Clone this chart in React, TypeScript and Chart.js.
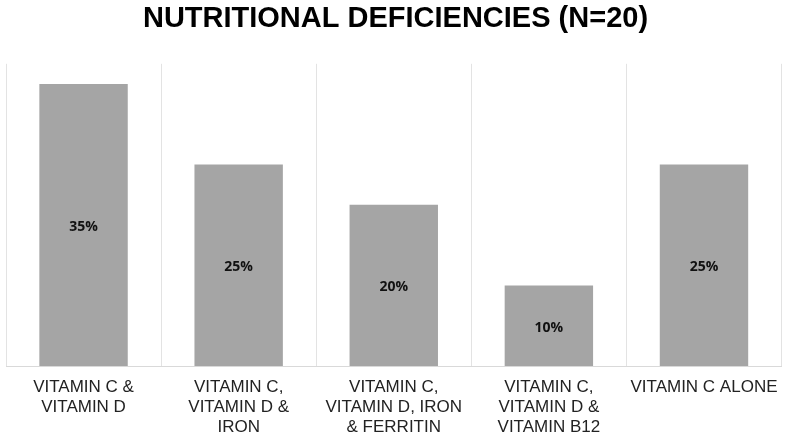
import React, { useEffect, useRef } from "react";
import { Chart, registerables } from "chart.js";

Chart.register(...registerables);

const categories: string[][] = [
  ["VITAMIN C &", "VITAMIN D"],
  ["VITAMIN C,", "VITAMIN D &", "IRON"],
  ["VITAMIN C,", "VITAMIN D, IRON", "& FERRITIN"],
  ["VITAMIN C,", "VITAMIN D &", "VITAMIN B12"],
  ["VITAMIN C ALONE"],
];
const percentages: number[] = [35, 25, 20, 10, 25];
const chartTitle = "NUTRITIONAL DEFICIENCIES (N=20)";

const barLabels = {
  id: "barLabels",
  afterDatasetsDraw(chart: any) {
    const ctx = chart.ctx;
    const meta = chart.getDatasetMeta(0);
    ctx.save();
    ctx.font = "bold 14px 'Open Sans', sans-serif";
    ctx.fillStyle = "#111";
    ctx.textAlign = "center";
    ctx.textBaseline = "middle";
    meta.data.forEach((el: any, i: number) => {
      const { x, y, base } = el.getProps(["x", "y", "base"], true);
      ctx.fillText(percentages[i] + "%", x, (y + base) / 2 + 2);
    });
    ctx.restore();
  },
};

export default function App() {
  const ref = useRef<HTMLCanvasElement>(null);
  useEffect(() => {
    if (!ref.current) return;
    const chart = new Chart(ref.current, {
      type: "bar",
      data: {
        labels: categories,
        datasets: [
          {
            data: percentages,
            backgroundColor: "#a5a5a5",
            barPercentage: 0.57,
            categoryPercentage: 1,
          },
        ],
      },
      options: {
        animation: false,
        responsive: false,
        maintainAspectRatio: false,
        layout: { padding: { left: 6, right: 5, top: 0, bottom: 0 } },
        plugins: {
          legend: { display: false },
          tooltip: { enabled: false },
          title: {
            display: true,
            text: chartTitle,
            color: "#000",
            font: { family: "'Liberation Sans', Arial, sans-serif", size: 29, weight: "bold", lineHeight: 1.2 },
            padding: { top: 2, bottom: 27 },
          },
        },
        scales: {
          x: {
            grid: { display: true, offset: true, color: "#e3e3e3", drawTicks: false },
            border: { color: "#d9d9d9" },
            ticks: {
              color: "#222",
              font: { family: "'Liberation Sans', Arial, sans-serif", size: 17, lineHeight: 1.15 },
              padding: 12,
              maxRotation: 0,
              autoSkip: false,
            },
            afterFit: (scale: any) => {
              scale.height = 69;
            },
          },
          y: {
            display: false,
            min: 0,
            max: 37.5,
          },
        },
      },
      plugins: [barLabels],
    });
    return () => chart.destroy();
  }, []);
  return (
    <div style={{ position: "fixed", left: 0, top: 0, width: 790, height: 435, background: "#fff" }}>
      <canvas ref={ref} width={790} height={435} />
    </div>
  );
}
